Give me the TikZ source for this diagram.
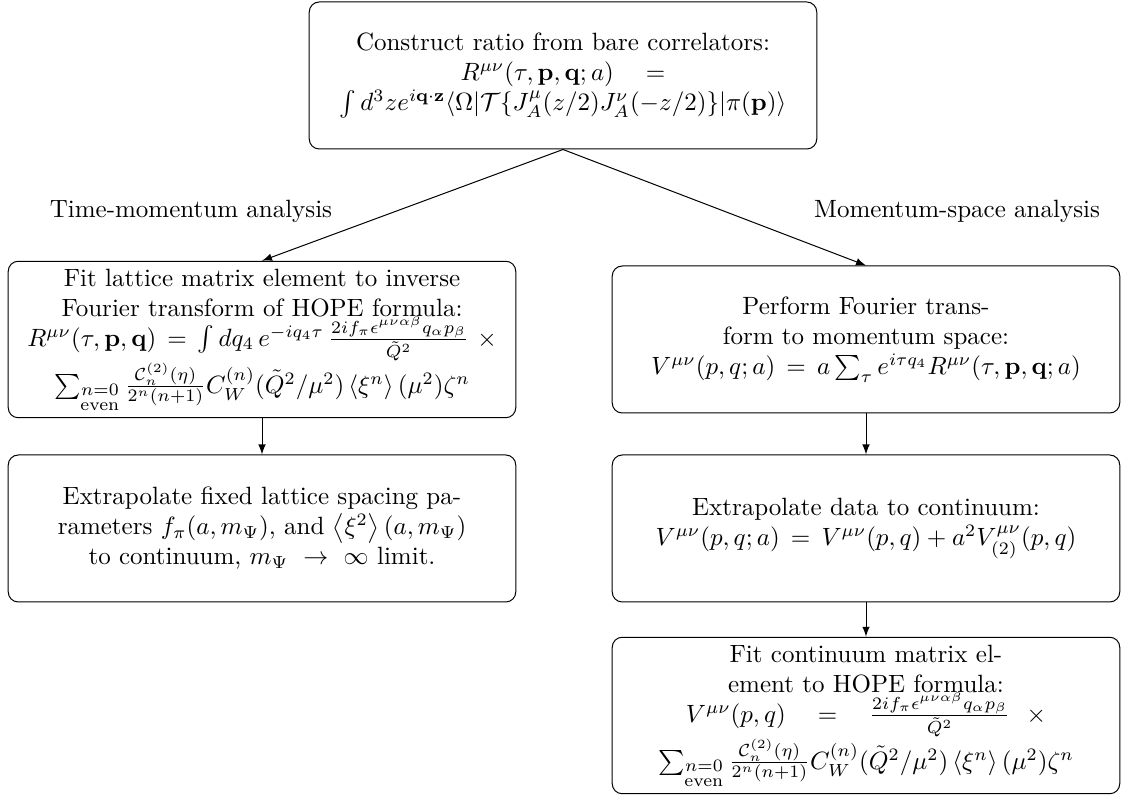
\documentclass[tikz,border=0pt]{standalone}
\usepackage{amsmath, amssymb}
\usepackage{tikz}
\usetikzlibrary{arrows}

\tikzset{
	stepbox/.style={draw, rounded corners=4pt, align=center, minimum width=203pt, minimum height=58.8pt, inner sep=3pt},
	flow/.style={-latex}
}

\begin{document}
\begin{tikzpicture}[x=0.4pt, y=-0.4pt]
					\useasboundingbox (0,0) rectangle (1122,797);

					% start: ratio of correlators
					\node [stepbox] (ratio) at (563,75.5) {Construct ratio from bare correlators:\\ $R^{\mu\nu}(\tau,\mathbf{p},\mathbf{q};a)\quad=$\\ $\int d^3z e^{i\mathbf{q}\cdot\mathbf{z}}\langle\Omega|\mathcal{T}\{J^\mu_A(z/2)J^\nu_A(-z/2)\}|\pi(\mathbf{p})\rangle$};

					\node (tmlabel) at (191,211) {Time-momentum analysis};
					\node (mslabel) at (957,211) {Momentum-space analysis};

					% time-momentum branch
					\node [stepbox] (tmfit) at (262,339.5) {Fit lattice matrix element to inverse\\ Fourier transform of HOPE formula:\\ $R^{\mu\nu}(\tau,\mathbf{p},\mathbf{q})\,=\,\int dq_4\, e^{-iq_4\tau}\,\frac{2if_\pi\epsilon^{\mu\nu\alpha\beta}q_\alpha p_\beta}{\tilde{Q}^2}\ \times$\\ $\sum_{\substack{n=0\\ \text{even}}}\frac{\mathcal{C}_n^{(2)}(\eta)}{2^n(n+1)}C_W^{(n)}(\tilde{Q}^2/\mu^2)\left\langle\xi^n\right\rangle(\mu^2)\zeta^n$};
					\node [stepbox] (tmextra) at (262,528.5) {Extrapolate fixed lattice spacing pa-\\rameters $f_\pi(a,m_\Psi)$, and $\left\langle\xi^2\right\rangle(a,m_\Psi)$\\ to continuum, $m_\Psi\ \rightarrow\ \infty$ limit.};

					% momentum-space branch
					\node [stepbox] (msfourier) at (866,339.5) {Perform Fourier trans-\\form to momentum space:\\ $V^{\mu\nu}(p,q;a)\,=\,a\sum_\tau e^{i\tau q_4}R^{\mu\nu}(\tau,\mathbf{p},\mathbf{q};a)$};
					\node [stepbox] (msextra) at (866,528.5) {Extrapolate data to continuum:\\ $V^{\mu\nu}(p,q;a)\,=\,V^{\mu\nu}(p,q)+a^2V^{\mu\nu}_{(2)}(p,q)$};
					\node [stepbox] (msfit) at (866,715.5) {Fit continuum matrix el-\\ement to HOPE formula:\\ $V^{\mu\nu}(p,q)\quad=\quad\frac{2if_\pi\epsilon^{\mu\nu\alpha\beta}q_\alpha p_\beta}{\tilde{Q}^2}\ \ \times$\\ $\sum_{\substack{n=0\\ \text{even}}}\frac{\mathcal{C}_n^{(2)}(\eta)}{2^n(n+1)}C_W^{(n)}(\tilde{Q}^2/\mu^2)\left\langle\xi^n\right\rangle(\mu^2)\zeta^n$};

					\draw [flow] (ratio.south) -- (tmfit.north);
					\draw [flow] (ratio.south) -- (msfourier.north);
					\draw [flow] (tmfit) -- (tmextra);
					\draw [flow] (msfourier) -- (msextra);
					\draw [flow] (msextra) -- (msfit);
				\end{tikzpicture}
\end{document}
